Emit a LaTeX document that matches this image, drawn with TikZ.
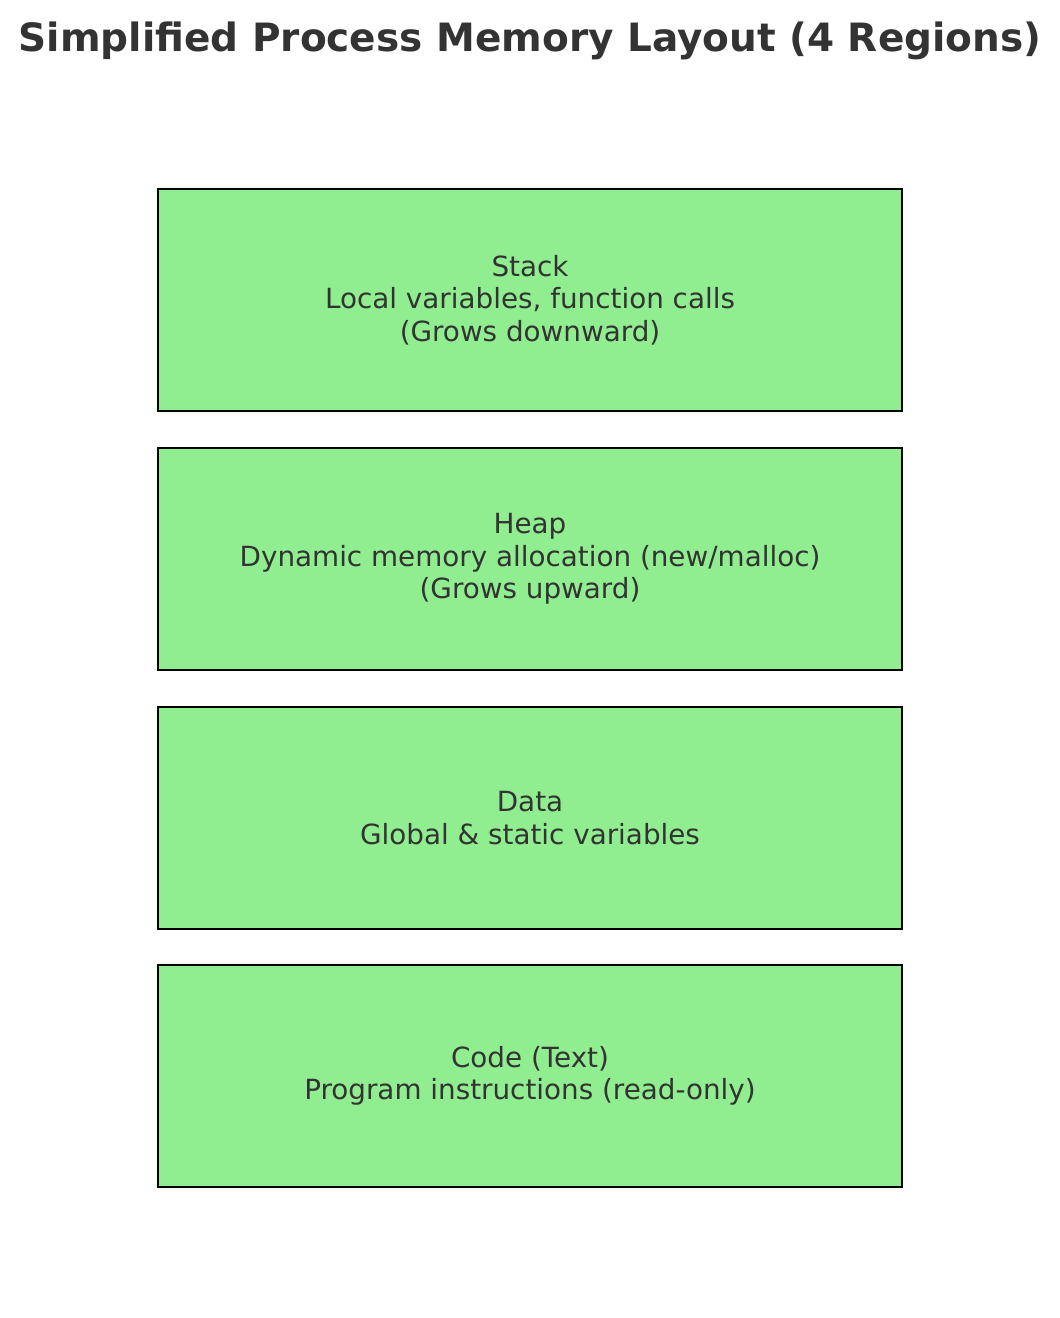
\documentclass[tikz,border=0pt]{standalone}
\usepackage{fontspec}
\setmainfont{DejaVu Sans}
\definecolor{regiongreen}{HTML}{90EE90}
\definecolor{labelgray}{HTML}{333333}
\tikzset{
    region/.style={draw=black, line width=2.5pt, fill=regiongreen, minimum width=744pt, minimum height=222pt,
        inner sep=0pt, align=center, text=labelgray, font=\fontsize{27.8}{32.5}\selectfont},
    heading/.style={text=labelgray, font=\bfseries\fontsize{39}{46}\selectfont}
}
\begin{document}
\begin{tikzpicture}[x=1pt, y=-1pt]
    \useasboundingbox (0,0) rectangle (1060,1318);
    \node[heading] (title) at (530,41) {Simplified Process Memory Layout (4 Regions)};
    \node[region] (stack) at (530,300) {Stack\\Local variables, function calls\\(Grows downward)};
    \node[region] (heap) at (530,559) {Heap\\Dynamic memory allocation (new/malloc)\\(Grows upward)};
    \node[region] (data) at (530,818) {Data\\Global \& static variables};
    \node[region] (code) at (530,1076) {Code (Text)\\Program instructions (read-only)};
\end{tikzpicture}
\end{document}
